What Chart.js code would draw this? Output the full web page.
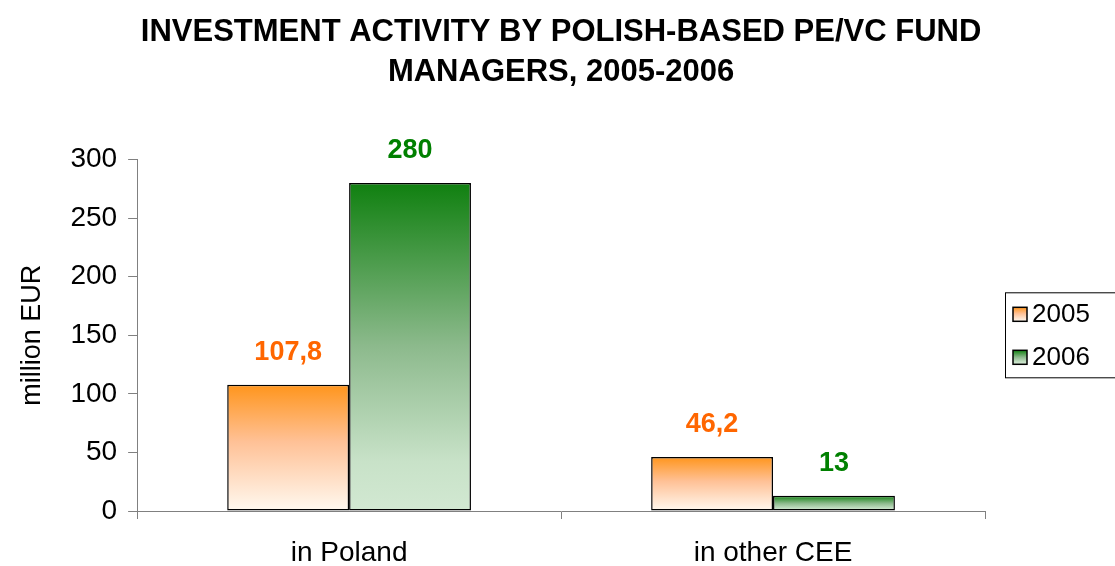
<!DOCTYPE html>
<html>
<head>
<meta charset="utf-8">
<script src="https://cdn.jsdelivr.net/npm/chart.js@4"></script>
<style>
  html, body { margin: 0; padding: 0; background: #fff; overflow: hidden; }
  #wrap { width: 1115px; height: 566px; position: relative; }
</style>
</head>
<body>
<div id="wrap"><canvas id="chart"></canvas></div>
<script>
const categories = ['in Poland', 'in other CEE'];
const years = ['2005', '2006'];
const values2005 = [107.8, 46.2];
const values2006 = [280, 13];
const yTicks = [0, 50, 100, 150, 200, 250, 300];

const FONT = "'Liberation Sans', Arial, sans-serif";

// vertical fade of each series, top of bar to baseline
const fades = {
  '2005': [[0, '#ff951c'], [0.45, '#ffc196'], [1, '#fff9f0']],
  '2006': [[0, '#108010'], [0.5, '#8dba8d'], [0.85, '#c8e2c8'], [1, '#d2e8d2']]
};
const labelColors = { '2005': '#ff6600', '2006': '#008000' };

function fade(ctx, year, top, bottom) {
  const g = ctx.createLinearGradient(0, top, 0, bottom);
  fades[year].forEach(s => g.addColorStop(s[0], s[1]));
  return g;
}

function barFill(context) {
  const chart = context.chart;
  const year = context.dataset.label;
  if (!chart.chartArea || context.type !== 'data') return fades[year][0][1];
  const y = chart.scales.y;
  return fade(chart.ctx, year, y.getPixelForValue(context.raw), y.getPixelForValue(0));
}

const valueLabels = {
  id: 'valueLabels',
  afterDatasetsDraw(chart) {
    const ctx = chart.ctx;
    ctx.save();
    ctx.font = 'bold 27px ' + FONT;
    ctx.textAlign = 'center';
    ctx.textBaseline = 'middle';
    chart.data.datasets.forEach((ds, i) => {
      chart.getDatasetMeta(i).data.forEach((bar, j) => {
        ctx.fillStyle = labelColors[ds.label];
        ctx.fillText(String(ds.data[j]).replace('.', ','), bar.x, bar.y - 32);
      });
    });
    ctx.restore();
  }
};

const boxedLegend = {
  id: 'boxedLegend',
  afterDraw(chart) {
    const ctx = chart.ctx;
    const area = chart.chartArea;
    const left = area.right + 20;
    const mid = (area.top + area.bottom) / 2;
    ctx.save();
    ctx.strokeStyle = '#000';
    ctx.lineWidth = 1;
    ctx.strokeRect(left + 0.5, mid - 42.5, 200, 85);
    ctx.font = '26px ' + FONT;
    ctx.textBaseline = 'middle';
    chart.data.datasets.forEach((ds, i) => {
      const cy = mid - 21 + i * 43;
      ctx.fillStyle = fade(ctx, ds.label, cy - 7, cy + 7);
      ctx.fillRect(left + 8, cy - 7, 14, 14);
      ctx.strokeStyle = '#000';
      ctx.lineWidth = 1.5;
      ctx.strokeRect(left + 8, cy - 7, 14, 14);
      ctx.fillStyle = '#000';
      ctx.fillText(ds.label, left + 27, cy + 1);
    });
    ctx.restore();
  }
};

const barStyle = {
  backgroundColor: barFill,
  borderColor: '#000',
  borderWidth: 1.5,
  borderSkipped: false,
  barPercentage: 1,
  categoryPercentage: 0.575
};

new Chart(document.getElementById('chart'), {
  type: 'bar',
  data: {
    labels: categories,
    datasets: [
      { label: years[0], data: values2005, ...barStyle },
      { label: years[1], data: values2006, ...barStyle }
    ]
  },
  options: {
    responsive: true,
    maintainAspectRatio: false,
    animation: false,
    layout: { padding: { left: 0, right: 130, top: 0, bottom: 0 } },
    plugins: {
      legend: { display: false },
      tooltip: { enabled: false },
      title: {
        display: true,
        fullSize: false,
        text: ['INVESTMENT ACTIVITY BY POLISH-BASED PE/VC FUND', 'MANAGERS, 2005-2006'],
        color: '#000',
        font: { family: FONT, size: 31, weight: 'bold', lineHeight: 1.3 },
        padding: { top: 12, bottom: 67 }
      }
    },
    scales: {
      x: {
        afterFit: axis => { axis.height = 55; },
        grid: { display: true, drawOnChartArea: false, tickLength: 8, color: '#808080', offset: true },
        border: { display: true, color: '#808080', width: 1 },
        ticks: { color: '#000', font: { family: FONT, size: 28, lineHeight: 1 }, padding: 20 }
      },
      y: {
        min: 0,
        max: 300,
        afterBuildTicks: axis => { axis.ticks = yTicks.map(v => ({ value: v })); },
        grid: { display: true, drawOnChartArea: false, tickLength: 9, color: '#808080' },
        border: { display: true, color: '#808080', width: 1 },
        ticks: { color: '#000', font: { family: FONT, size: 28 }, padding: 11 },
        title: {
          display: true,
          text: 'million EUR',
          color: '#000',
          font: { family: FONT, size: 27 },
          padding: { top: 16, bottom: 11 }
        }
      }
    }
  },
  plugins: [valueLabels, boxedLegend]
});
</script>
</body>
</html>
